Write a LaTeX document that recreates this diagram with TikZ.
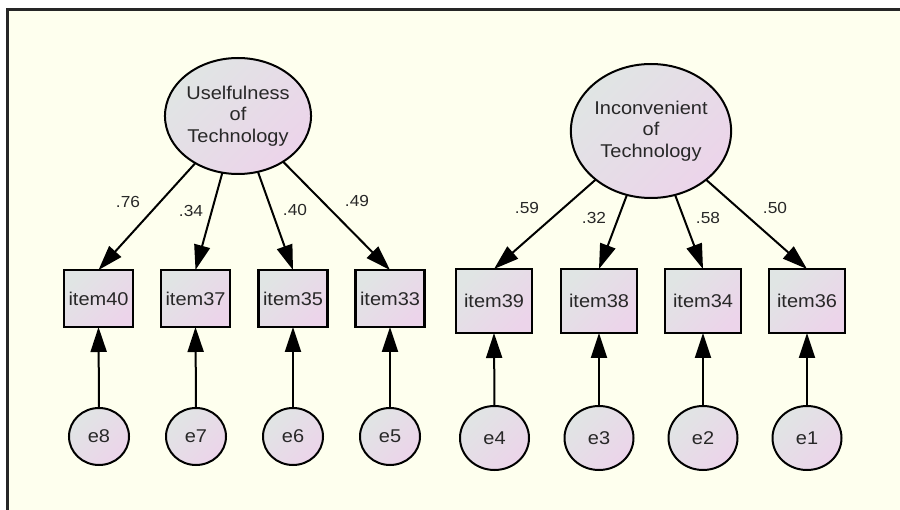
\documentclass[tikz,border=0pt]{standalone}
\usepackage{fontspec}
\setmainfont{Liberation Sans}[FakeStretch=1.08]
\usetikzlibrary{arrows.meta,shapes.geometric}
\definecolor{bgc}{RGB}{254,255,238}
\definecolor{fillA}{RGB}{224,229,228}
\definecolor{fillB}{RGB}{236,212,234}
\definecolor{txt}{RGB}{40,40,40}
\tikzset{
  shade/.style={top color=fillA, bottom color=fillB, shading angle=45},
  latent/.style={ellipse, draw=black, line width=2pt, shade, inner sep=0pt, outer sep=0pt, align=center, text=txt, font=\fontsize{18.5}{21.5}\selectfont},
  obs/.style={rectangle, draw=black, line width=2.5pt, shade, inner sep=0pt, outer sep=0pt, text=txt, font=\fontsize{18.5}{22}\selectfont},
  err/.style={ellipse, draw=black, line width=2pt, shade, inner sep=0pt, outer sep=0pt, text=txt, font=\fontsize{18.5}{22}\selectfont},
  conn/.style={line width=2pt, -{Triangle[length=25pt,width=16pt]}},
  wlabel/.style={text=txt, font=\fontsize{16}{18}\selectfont, inner sep=0pt}
}
\begin{document}
\begin{tikzpicture}[x=1pt,y=-1pt]
\useasboundingbox (0,0) rectangle (900,510);
\fill[white] (0,0) rectangle (900,510);
\fill[bgc] (7.5,9.5) rectangle (900,510);
\draw[line width=3pt, black!85] (7.5,510) -- (7.5,9.5) -- (900,9.5);

% left latent
\node[latent, minimum width=140, minimum height=116] (L1) at (238,116) {Uselfulness\\of\\Technology};
\node[obs, minimum width=69, minimum height=57] (i40) at (98.5,298.5) {item40};
\node[obs, minimum width=69, minimum height=57] (i37) at (195.5,298.5) {item37};
\node[obs, minimum width=69, minimum height=57] (i35) at (293,298.5) {item35};
\node[obs, minimum width=69, minimum height=57] (i33) at (390,298.5) {item33};
\node[err, minimum width=60, minimum height=57] (e8) at (99,436.5) {e8};
\node[err, minimum width=60, minimum height=57] (e7) at (196,436.5) {e7};
\node[err, minimum width=60, minimum height=57] (e6) at (293,436.5) {e6};
\node[err, minimum width=60, minimum height=57] (e5) at (390,436.5) {e5};

% right latent
\node[latent, minimum width=156, minimum height=134] (L2) at (651,131) {Inconvenient\\of\\Technology};
\node[obs, minimum width=76, minimum height=64] (i39) at (494,301) {item39};
\node[obs, minimum width=76, minimum height=64] (i38) at (599,301) {item38};
\node[obs, minimum width=76, minimum height=64] (i34) at (703,301) {item34};
\node[obs, minimum width=76, minimum height=64] (i36) at (807,301) {item36};
\node[err, minimum width=69, minimum height=64] (e4) at (494.5,438) {e4};
\node[err, minimum width=69, minimum height=64] (e3) at (599,438) {e3};
\node[err, minimum width=69, minimum height=64] (e2) at (703,438) {e2};
\node[err, minimum width=69, minimum height=64] (e1) at (807,438) {e1};

% loadings
\foreach \b in {i40,i37,i35,i33} \draw[conn] (L1) -- (\b.north);
\foreach \b in {i39,i38,i34,i36} \draw[conn] (L2) -- (\b.north);
\foreach \e/\b in {e8/i40,e7/i37,e6/i35,e5/i33,e4/i39,e3/i38,e2/i34,e1/i36} \draw[conn] (\e.north) -- (\b.south);

% labels
\node[wlabel] (w1) at (128,202) {.76};
\node[wlabel] (w2) at (191,211) {.34};
\node[wlabel] (w3) at (295,210) {.40};
\node[wlabel] (w4) at (357,201) {.49};
\node[wlabel] (w5) at (527,208) {.59};
\node[wlabel] (w6) at (594,218) {.32};
\node[wlabel] (w7) at (708,218) {.58};
\node[wlabel] (w8) at (775,208) {.50};
\end{tikzpicture}
\end{document}
